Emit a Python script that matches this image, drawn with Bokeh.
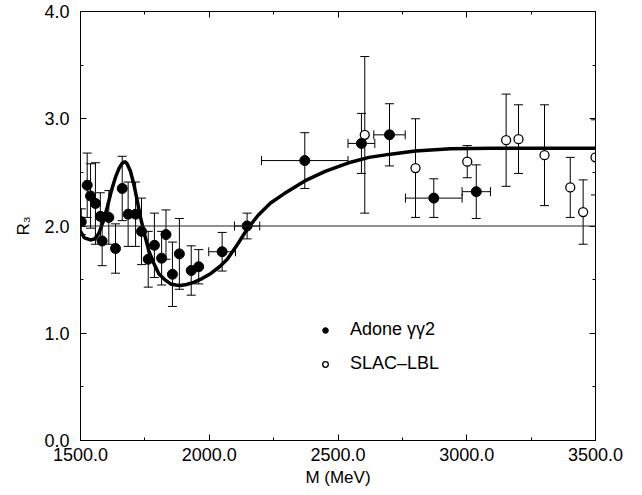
from bokeh.plotting import figure
from bokeh.models import (Whisker, TeeHead, ColumnDataSource, Span, Legend, LegendItem,
                          LinearAxis, SingleIntervalTicker, PrintfTickFormatter, Range1d)
from bokeh.embed import file_html
from bokeh.resources import INLINE

# Adone gamma-gamma-2 (filled)
adone_m = [1503, 1526, 1539, 1558, 1577, 1584, 1610, 1636, 1662, 1685, 1714, 1737, 1763,
           1787, 1815, 1832, 1857, 1884, 1930, 1959, 2050, 2147, 2371, 2591, 2700, 2872, 3037]
adone_r = [2.04, 2.38, 2.28, 2.21, 2.09, 1.86, 2.08, 1.79, 2.35, 2.11, 2.11, 1.95, 1.69,
           1.82, 1.70, 1.92, 1.55, 1.74, 1.585, 1.62, 1.76, 2.00, 2.61, 2.77, 2.85, 2.26, 2.32]
adone_err = [0.12, 0.30, 0.30, 0.38, 0.22, 0.23, 0.25, 0.23, 0.30, 0.30, 0.30, 0.31, 0.26,
             0.30, 0.25, 0.23, 0.30, 0.33, 0.23, 0.16, 0.18, 0.12, 0.26, 0.28, 0.29, 0.18, 0.25]
adone_xerr = [0, 0, 0, 0, 0, 0, 0, 0, 0, 0, 0, 0, 0,
              0, 0, 0, 0, 0, 0, 0, 52, 49, 168, 52, 61, 110, 55]

# SLAC-LBL (open)
slac_m = [2604, 2801, 3002, 3153, 3201, 3302, 3402, 3452, 3500]
slac_r = [2.85, 2.54, 2.60, 2.80, 2.81, 2.66, 2.36, 2.13, 2.64]
slac_err = [0.73, 0.46, 0.15, 0.43, 0.32, 0.47, 0.28, 0.30, 0.35]

# fit curve
fit_m = [1500, 1515, 1539, 1555, 1571, 1588, 1604, 1620, 1636, 1650, 1662, 1672, 1681, 1694,
         1707, 1720, 1733, 1750, 1765, 1785, 1804, 1827, 1850, 1870, 1888, 1912, 1940, 1972,
         2005, 2040, 2070, 2110, 2147, 2190, 2238, 2290, 2371, 2450, 2549, 2620, 2704, 2800,
         2937, 3100, 3300, 3500]
fit_r = [1.95, 1.89, 1.87, 1.88, 1.93, 2.04, 2.175, 2.33, 2.455, 2.54, 2.585, 2.60, 2.58, 2.51,
         2.39, 2.24, 2.08, 1.91, 1.77, 1.65, 1.555, 1.50, 1.46, 1.45, 1.445, 1.455, 1.475, 1.51,
         1.555, 1.62, 1.69, 1.83, 1.97, 2.10, 2.215, 2.30, 2.42, 2.51, 2.595, 2.64, 2.67, 2.70,
         2.72, 2.725, 2.725, 2.725]

x_ticks = [1500, 2000, 2500, 3000, 3500]
y_ticks = [0, 1, 2, 3, 4]

FONT = "Liberation Sans"

adone_src = ColumnDataSource(dict(
    m=adone_m, r=adone_r,
    lo=[r - e for r, e in zip(adone_r, adone_err)],
    hi=[r + e for r, e in zip(adone_r, adone_err)]))
xe_idx = [i for i, e in enumerate(adone_xerr) if e > 0]
adone_x_src = ColumnDataSource(dict(
    m=[adone_m[i] for i in xe_idx], r=[adone_r[i] for i in xe_idx],
    lo=[adone_m[i] - adone_xerr[i] for i in xe_idx],
    hi=[adone_m[i] + adone_xerr[i] for i in xe_idx]))
slac_src = ColumnDataSource(dict(
    m=slac_m, r=slac_r,
    lo=[r - e for r, e in zip(slac_r, slac_err)],
    hi=[r + e for r, e in zip(slac_r, slac_err)]))
fit_src = ColumnDataSource(dict(m=fit_m, r=fit_r))

p = figure(width=626, height=493, x_range=Range1d(1500, 3500), y_range=Range1d(0, 4),
           output_backend="svg", toolbar_location=None,
           min_border_left=80, min_border_right=31, min_border_top=11, min_border_bottom=53)
p.xgrid.visible = False
p.ygrid.visible = False
p.outline_line_color = "black"
p.background_fill_color = "white"

xt = SingleIntervalTicker(interval=500, num_minor_ticks=2)
yt = SingleIntervalTicker(interval=1, num_minor_ticks=2)
p.xaxis.ticker = xt
p.yaxis.ticker = yt
p.xaxis.formatter = PrintfTickFormatter(format="%.1f")
p.yaxis.formatter = PrintfTickFormatter(format="%.1f")

for ax in (p.xaxis[0], p.yaxis[0]):
    ax.axis_line_color = "black"
    ax.major_tick_line_color = "black"
    ax.minor_tick_line_color = "black"
    ax.major_tick_in = 6
    ax.major_tick_out = 0
    ax.minor_tick_in = 3
    ax.minor_tick_out = 0
    ax.major_label_text_font = FONT
    ax.major_label_text_font_size = "18px"
    ax.major_label_text_color = "black"
    ax.axis_label_text_font = FONT
    ax.axis_label_text_font_size = "17px"
    ax.axis_label_text_font_style = "normal"
    ax.axis_label_text_color = "black"

p.xaxis.axis_label = "M (MeV)"
p.xaxis.major_label_standoff = 7
p.xaxis.axis_label_standoff = 4
p.yaxis.axis_label = "R₃"
p.yaxis.major_label_standoff = 11
p.yaxis.axis_label_standoff = 8

for loc, tk, vals in (("above", xt, x_ticks), ("right", yt, y_ticks)):
    ax = LinearAxis(ticker=tk, major_label_overrides={v: "" for v in vals},
                    major_label_standoff=0,
                    axis_line_color="black", major_tick_line_color="black",
                    minor_tick_line_color="black", major_tick_in=6, major_tick_out=0,
                    minor_tick_in=3, minor_tick_out=0)
    p.add_layout(ax, loc)

p.add_layout(Span(location=2.0, dimension="width", line_color="#222222", line_width=1))

def whisk(src, dim, base):
    w = Whisker(source=src, base=base, lower="lo", upper="hi", dimension=dim,
                line_color="black", line_width=1, level="underlay",
                upper_head=TeeHead(size=9, line_color="black", line_width=1),
                lower_head=TeeHead(size=9, line_color="black", line_width=1))
    p.add_layout(w)

whisk(adone_src, "height", "m")
whisk(adone_x_src, "width", "r")
whisk(slac_src, "height", "m")

p.line("m", "r", source=fit_src, line_color="black", line_width=3.5)

r_fill = p.scatter("m", "r", source=adone_src, size=10, marker="circle",
                   fill_color="black", line_color="black")
r_open = p.scatter("m", "r", source=slac_src, size=9, marker="circle",
                   fill_color="white", line_color="black", line_width=1.3)

legend = Legend(items=[LegendItem(label="Adone γγ2", renderers=[r_fill]),
                       LegendItem(label="SLAC–LBL", renderers=[r_open])],
                location=(238, 66), orientation="vertical",
                border_line_alpha=0, background_fill_alpha=0,
                label_text_font=FONT, label_text_font_size="18px", label_text_color="black",
                glyph_width=14, glyph_height=20, label_height=20, label_standoff=18,
                spacing=13, padding=0, margin=0)
p.add_layout(legend)

open("out.html", "w").write(file_html(p, INLINE))
